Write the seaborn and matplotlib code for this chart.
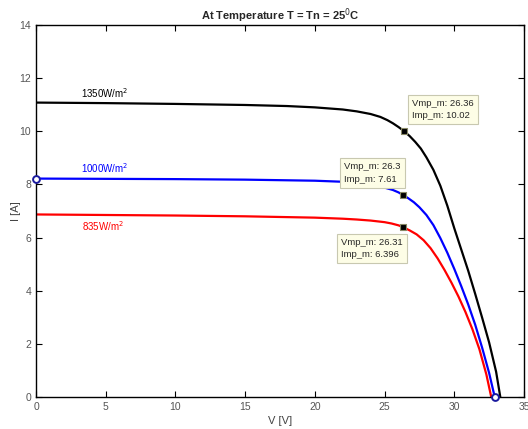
import matplotlib
matplotlib.use("Agg")
import matplotlib.pyplot as plt
import seaborn as sns
import pandas as pd

# ---- data ----
v_1350 = [0, 5, 10, 15, 18, 20, 22, 23, 24, 24.7, 25.2, 25.6, 26.0, 26.36, 26.8, 27.2,
          27.6, 28.0, 28.5, 29.0, 29.5, 30.0, 30.5, 31.0, 31.5, 32.0, 32.5, 33.0, 33.3]
i_1350 = [11.08, 11.06, 11.03, 10.99, 10.95, 10.9, 10.82, 10.75, 10.65, 10.54, 10.42, 10.3,
          10.16, 10.02, 9.82, 9.6, 9.35, 9.02, 8.55, 7.95, 7.2, 6.35, 5.55, 4.75, 3.88,
          2.98, 2.05, 0.95, 0.0]
v_1000 = [0, 5, 10, 15, 20, 22, 23, 24, 25, 25.6, 26.0, 26.3, 26.7, 27.1, 27.5, 28.0,
          28.5, 29.0, 29.5, 30.0, 30.5, 31.0, 31.5, 32.0, 32.5, 32.9]
i_1000 = [8.22, 8.21, 8.2, 8.18, 8.14, 8.1, 8.06, 7.98, 7.88, 7.79, 7.7, 7.61, 7.48, 7.33,
          7.14, 6.85, 6.47, 5.98, 5.43, 4.82, 4.17, 3.48, 2.72, 1.85, 0.9, 0.0]
v_835 = [0, 5, 10, 15, 20, 22, 23, 24, 25, 25.5, 26.0, 26.31, 26.8, 27.3, 27.8, 28.3,
         28.8, 29.3, 29.8, 30.3, 30.8, 31.3, 31.8, 32.3, 32.65]
i_835 = [6.87, 6.85, 6.83, 6.8, 6.75, 6.71, 6.68, 6.64, 6.58, 6.53, 6.46, 6.396, 6.27,
         6.12, 5.9, 5.6, 5.22, 4.78, 4.3, 3.78, 3.2, 2.55, 1.8, 0.85, 0.0]

series_names = ["1350W/m$^2$", "1000W/m$^2$", "835W/m$^2$"]
series_colors = ["black", "blue", "red"]
mpp_v = [26.36, 26.3, 26.31]
mpp_i = [10.02, 7.61, 6.396]
mpp_labels = ["Vmp_m: 26.36\nImp_m: 10.02", "Vmp_m: 26.3\nImp_m: 7.61", "Vmp_m: 26.31\nImp_m: 6.396"]
end_v = [0, 32.9]
end_i = [8.22, 0.0]
x_ticks = [0, 5, 10, 15, 20, 25, 30, 35]
y_ticks = [0, 2, 4, 6, 8, 10, 12, 14]

df = pd.concat([
    pd.DataFrame({"V": v_1350, "I": i_1350, "G": series_names[0]}),
    pd.DataFrame({"V": v_1000, "I": i_1000, "G": series_names[1]}),
    pd.DataFrame({"V": v_835, "I": i_835, "G": series_names[2]}),
])
mpp = pd.DataFrame({"V": mpp_v, "I": mpp_i})
ends = pd.DataFrame({"V": end_v, "I": end_i})

sns.set_theme(style="white")
plt.rcParams["font.family"] = ["Liberation Sans", "DejaVu Sans"]

fig = plt.figure(figsize=(5.28, 4.29), dpi=100)
ax = fig.add_axes([36 / 528, 32 / 429, 488 / 528, 372 / 429])

sns.lineplot(data=df, x="V", y="I", hue="G", palette=dict(zip(series_names, series_colors)),
             sort=False, estimator=None, linewidth=1.6, legend=False, ax=ax)
for ln in ax.lines:
    ln.set_solid_joinstyle("round")
sns.scatterplot(data=ends, x="V", y="I", marker="o", s=24, facecolor="white",
                edgecolor="#1a1a9e", linewidth=1.4, ax=ax, zorder=5)
ax.collections[-1].set_clip_on(False)
sns.scatterplot(data=mpp, x="V", y="I", marker="s", s=24, color="black",
                edgecolor="#888866", linewidth=0.8, ax=ax, zorder=6)

# series labels
label_pos = [(3.2, 11.45), (3.2, 8.62), (3.3, 6.45)]
for (lx, ly), name, col in zip(label_pos, series_names, series_colors):
    ax.text(lx, ly, name, color=col, fontsize=7, va="center", ha="left")

# data tips
tip_pos = [(26.97, 10.82), (22.1, 8.43), (21.88, 5.59)]
for (tx, ty), txt in zip(tip_pos, mpp_labels):
    ax.text(tx, ty, txt, fontsize=6.8, ha="left", va="center", linespacing=1.45,
            bbox=dict(boxstyle="square,pad=0.45", facecolor="#fdfde6", edgecolor="#c8c8b0", linewidth=0.8),
            zorder=7)

ax.set_xlim(0, 35)
ax.set_ylim(0, 14)
ax.set_xticks(x_ticks)
ax.set_yticks(y_ticks)
ax.tick_params(direction="in", length=4, width=0.8, color="black", labelsize=7.5,
               labelcolor="#555555", top=True, right=True, bottom=True, left=True,
               labeltop=False, labelright=False)
for s in ax.spines.values():
    s.set_color("black")
    s.set_linewidth(1.0)
ax.set_xlabel("V [V]", fontsize=8, color="#444444", labelpad=3)
ax.set_ylabel("I [A]", fontsize=8, color="#444444")
ax.yaxis.set_label_coords(-0.03, 0.5)
ax.set_title("At Temperature T = Tn = 25$^0$C", fontsize=8, fontweight="bold", pad=4)

fig.savefig("out.png", dpi=100)
